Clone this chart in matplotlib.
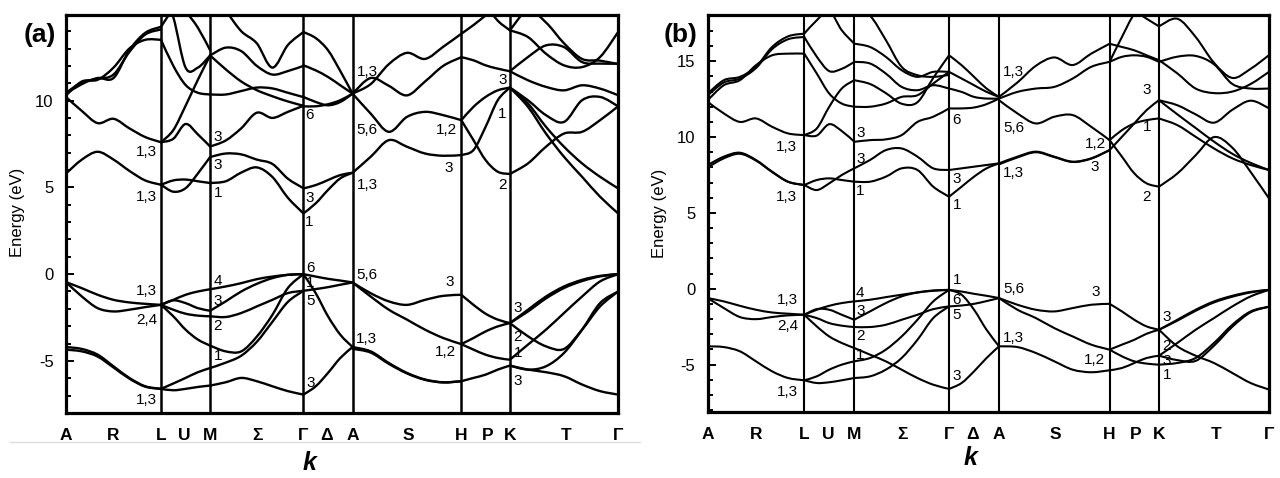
import numpy as np
import matplotlib
matplotlib.use("Agg")
import matplotlib.pyplot as plt
from matplotlib.path import Path
from matplotlib.patches import PathPatch
from matplotlib.lines import Line2D
from matplotlib.ticker import MultipleLocator

plt.rcParams['font.family'] = ['Liberation Sans', 'DejaVu Sans']
plt.rcParams['axes.unicode_minus'] = False

# high symmetry points along k (both panels share the same path)
k_lines = [0.172, 0.261, 0.43, 0.519, 0.716, 0.804]
tick_k = [0.0, 0.086, 0.172, 0.214, 0.261, 0.347, 0.43, 0.4725, 0.519, 0.62, 0.716, 0.763, 0.804, 0.905, 1.0]
tick_names = ['A', 'R', 'L', 'U', 'M', 'Σ', 'Γ', 'Δ', 'A', 'S', 'H', 'P', 'K', 'T', 'Γ']

# k samples in each segment
k_AL = [0.0, 0.0287, 0.0573, 0.086, 0.1147, 0.1433, 0.172]
k_LM = [0.172, 0.1943, 0.2165, 0.2388, 0.261]
k_MG = [0.261, 0.2892, 0.3173, 0.3455, 0.3737, 0.4018, 0.43]
k_GA = [0.43, 0.4523, 0.4745, 0.4968, 0.519]
k_AH = [0.519, 0.5518, 0.5847, 0.6175, 0.6503, 0.6832, 0.716]
k_HK = [0.716, 0.738, 0.76, 0.782, 0.804]
k_KG = [0.804, 0.8367, 0.8693, 0.902, 0.9347, 0.9673, 1.0]

### panel (a): band energies (eV) read at the k samples
a_AL = [[10.4, 10.95, 11.3, 11.3, 12.9, 13.9, 14.25],
        [10.45, 11.05, 11.25, 11.5, 12.8, 13.8, 14.1],
        [10.3, 11.1, 11.2, 11.9, 13.0, 13.5, 13.5],
        [10.2, 9.4, 8.7, 8.95, 8.4, 7.9, 7.6],
        [5.8, 6.6, 7.05, 6.6, 5.95, 5.4, 5.15],
        [-0.46, -0.81, -1.19, -1.48, -1.63, -1.71, -1.77],
        [-0.46, -1.29, -1.96, -2.15, -2.05, -1.9, -1.77],
        [-4.2, -4.31, -4.64, -5.31, -5.98, -6.46, -6.61],
        [-4.35, -4.45, -4.75, -5.38, -6.02, -6.48, -6.61]]
a_LM = [[7.6, 7.8, 8.65, 8.05, 7.35],
        [7.6, 8.3, 9.7, 11.2, 12.6],
        [5.15, 4.75, 4.95, 5.8, 6.75],
        [5.15, 5.4, 5.45, 5.35, 5.25],
        [14.25, 15.3, 16.0, 16.5, 16.8],
        [16.5, 14.8, 11.9, 11.9, 12.6],
        [13.5, 12.0, 10.9, 10.45, 10.35],
        [17.0, 16.5, 15.2, 14.2, 12.9],
        [-1.77, -1.48, -1.19, -1.0, -0.87],
        [-1.77, -1.51, -1.67, -1.96, -2.11],
        [-1.77, -2.05, -2.28, -2.39, -2.43],
        [-1.77, -2.43, -3.2, -3.77, -4.12],
        [-6.61, -6.3, -5.98, -5.65, -5.41],
        [-6.61, -6.69, -6.61, -6.5, -6.42]]
a_MG = [[5.25, 5.35, 5.85, 6.15, 5.6, 4.4, 3.5],
        [6.75, 6.95, 6.9, 6.6, 6.35, 5.5, 4.95],
        [7.35, 7.7, 8.4, 9.3, 9.0, 9.35, 9.7],
        [10.35, 10.35, 10.55, 10.75, 10.7, 10.45, 10.2],
        [12.6, 11.8, 11.1, 10.6, 10.25, 9.95, 9.7],
        [12.6, 13.05, 12.85, 12.0, 11.5, 11.7, 12.0],
        [16.5, 15.2, 14.0, 13.3, 11.9, 13.2, 13.95],
        [-0.87, -0.71, -0.52, -0.29, -0.14, -0.04, 0.0],
        [-2.11, -1.57, -1.0, -0.56, -0.23, -0.04, 0.0],
        [-2.43, -2.47, -2.24, -1.86, -1.48, -1.09, -0.96],
        [-4.12, -4.45, -4.45, -3.6, -2.35, -0.8, 0.0],
        [-5.41, -5.1, -4.7, -3.9, -2.75, -1.6, -0.96],
        [-6.42, -6.23, -5.98, -6.17, -6.46, -6.74, -6.94]]
a_GA = [[13.95, 13.6, 12.9, 11.7, 10.4],
        [12.03, 11.74, 11.36, 10.88, 10.4],
        [10.21, 9.92, 9.73, 9.92, 10.4],
        [9.67, 9.67, 9.79, 10.02, 10.4],
        [4.94, 5.13, 5.42, 5.71, 5.84],
        [3.5, 4.08, 4.85, 5.52, 5.84],
        [0.0, -0.14, -0.27, -0.37, -0.48],
        [-0.96, -0.86, -0.75, -0.61, -0.48],
        [0.0, -1.1, -2.43, -3.49, -4.2],
        [-6.94, -6.46, -5.69, -4.83, -4.2]]
a_AH = [[10.4, 10.95, 12.1, 12.75, 12.4, 13.1, 13.85],
        [10.4, 11.3, 10.85, 10.3, 11.1, 12.0, 12.5],
        [10.4, 9.25, 8.2, 9.06, 9.35, 9.16, 8.87],
        [5.84, 6.76, 7.72, 7.34, 6.95, 6.82, 6.86],
        [-0.48, -1.1, -1.57, -1.77, -1.48, -1.25, -1.19],
        [-0.48, -1.29, -2.05, -2.62, -3.2, -3.68, -4.03],
        [-4.2, -4.45, -5.12, -5.69, -6.07, -6.23, -6.17],
        [-4.3, -4.52, -5.17, -5.72, -6.09, -6.24, -6.17]]
a_HK = [[8.87, 9.64, 10.21, 10.59, 10.75],
        [6.86, 7.15, 8.49, 10.02, 10.75],
        [8.87, 7.72, 6.57, 5.9, 5.77],
        [12.5, 12.32, 12.03, 11.84, 11.69],
        [13.85, 14.35, 14.9, 15.4, 15.6],
        [16.0, 16.0, 15.5, 14.6, 14.05],
        [-1.19, -1.77, -2.28, -2.62, -2.82],
        [-4.03, -3.68, -3.3, -3.01, -2.82],
        [-4.03, -4.35, -4.64, -4.83, -4.93],
        [-6.17, -5.98, -5.79, -5.5, -5.27]]
a_KG = [[11.69, 12.51, 13.18, 13.08, 12.22, 12.13, 12.13],
        [14.05, 13.66, 12.7, 12.03, 11.93, 12.51, 13.95],
        [11.69, 11.17, 10.79, 10.59, 10.88, 10.69, 10.31],
        [10.75, 10.02, 9.16, 8.77, 10.02, 10.21, 9.67],
        [5.77, 6.38, 7.34, 8.1, 8.2, 8.87, 9.67],
        [10.75, 9.83, 8.49, 7.34, 6.38, 5.61, 4.94],
        [10.75, 9.64, 8.1, 6.76, 5.61, 4.46, 3.5],
        [14.05, 15.2, 14.5, 13.3, 12.4, 12.3, 12.1],
        [-2.82, -2.05, -1.29, -0.71, -0.33, -0.1, 0.0],
        [-2.82, -2.15, -1.4, -0.8, -0.4, -0.13, 0.0],
        [-2.82, -3.58, -4.16, -4.31, -3.2, -1.86, -1.0],
        [-4.93, -4.06, -3.2, -2.24, -1.29, -0.42, 0.0],
        [-5.27, -5.5, -5.31, -4.54, -3.2, -1.67, -1.0],
        [-5.27, -5.5, -5.65, -5.88, -6.36, -6.74, -6.94]]

### panel (b)
b_AL = [[12.87, 13.75, 13.97, 14.63, 15.94, 16.64, 16.82],
        [12.75, 13.6, 13.85, 14.55, 15.8, 16.45, 16.6],
        [12.43, 13.42, 13.75, 14.74, 15.39, 15.5, 15.5],
        [12.32, 11.56, 11.0, 11.23, 10.68, 10.24, 10.13],
        [8.16, 8.71, 8.97, 8.49, 7.72, 7.06, 6.84],
        [8.0, 8.6, 8.9, 8.45, 7.7, 7.05, 6.84],
        [-0.61, -0.83, -1.12, -1.38, -1.56, -1.64, -1.71],
        [-0.61, -1.27, -1.86, -2.0, -1.86, -1.75, -1.71],
        [-3.79, -3.84, -4.12, -4.78, -5.44, -5.88, -6.03]]
b_LM = [[10.13, 10.1, 10.85, 10.4, 9.7],
        [10.13, 10.57, 12.0, 13.2, 13.75],
        [15.5, 14.19, 12.87, 12.21, 12.0],
        [16.82, 17.7, 18.3, 17.04, 16.16],
        [16.6, 15.3, 14.35, 14.5, 14.95],
        [6.84, 6.51, 6.95, 7.5, 7.94],
        [6.84, 7.17, 7.28, 7.17, 7.06],
        [-1.71, -1.38, -1.12, -0.94, -0.83],
        [-1.71, -1.34, -1.38, -1.71, -2.04],
        [-1.71, -1.93, -2.26, -2.43, -2.52],
        [-1.71, -2.48, -3.14, -3.57, -3.9],
        [-6.03, -5.77, -5.33, -5.0, -4.78],
        [-6.03, -6.21, -6.16, -6.03, -5.88]]
b_MG = [[7.06, 7.06, 7.39, 7.94, 7.83, 6.73, 6.07],
        [7.94, 8.49, 9.14, 9.25, 8.71, 7.94, 7.83],
        [9.69, 9.8, 9.85, 10.13, 11.0, 11.34, 11.89],
        [12.0, 12.0, 12.21, 12.65, 12.76, 13.53, 14.3],
        [13.75, 13.5, 12.9, 12.2, 12.3, 13.9, 15.39],
        [14.96, 14.85, 14.19, 13.31, 13.09, 13.42, 13.2],
        [16.16, 15.94, 15.29, 14.41, 13.97, 14.3, 14.3],
        [18.5, 18.0, 16.4, 14.63, 14.08, 13.97, 14.1],
        [-0.83, -0.72, -0.55, -0.39, -0.24, -0.13, -0.07],
        [-2.04, -1.49, -0.94, -0.5, -0.24, -0.11, -0.07],
        [-2.52, -2.52, -2.37, -2.04, -1.71, -1.34, -1.16],
        [-3.9, -4.34, -4.78, -5.33, -5.88, -6.32, -6.6],
        [-4.78, -4.56, -4.01, -3.14, -2.04, -0.83, -0.07],
        [-5.88, -5.77, -5.33, -4.56, -3.36, -1.93, -1.16]]
b_GA = [[15.39, 14.74, 13.97, 13.2, 12.65],
        [14.3, 13.86, 13.42, 12.98, 12.65],
        [13.2, 12.98, 12.65, 12.54, 12.54],
        [11.89, 11.89, 11.95, 12.17, 12.54],
        [7.83, 7.94, 8.05, 8.16, 8.27],
        [6.07, 6.73, 7.39, 7.94, 8.27],
        [-0.07, -0.18, -0.33, -0.46, -0.61],
        [-1.16, -1.1, -0.99, -0.81, -0.61],
        [-0.07, -0.39, -1.38, -2.7, -3.79],
        [-6.6, -6.21, -5.44, -4.56, -3.79]]
b_AH = [[12.65, 13.6, 14.7, 15.25, 14.75, 15.5, 16.15],
        [12.54, 12.98, 13.2, 13.31, 13.86, 14.63, 14.96],
        [12.43, 11.56, 10.9, 11.34, 11.45, 10.68, 9.8],
        [8.27, 8.71, 9.04, 8.71, 8.38, 8.6, 9.14],
        [8.2, 8.66, 9.0, 8.68, 8.36, 8.58, 9.14],
        [-0.61, -1.05, -1.38, -1.49, -1.27, -1.05, -0.99],
        [-0.61, -1.38, -1.93, -2.59, -3.14, -3.68, -4.01],
        [-3.79, -3.84, -4.23, -4.78, -5.33, -5.5, -5.37]]
b_HK = [[9.8, 10.46, 10.9, 11.12, 11.23],
        [9.14, 10.02, 10.9, 11.78, 12.43],
        [9.8, 8.71, 7.61, 6.95, 6.73],
        [14.96, 15.29, 15.39, 15.29, 14.96],
        [16.15, 15.94, 15.72, 15.39, 15.07],
        [14.96, 16.6, 18.1, 18.6, 18.6],
        [18.6, 18.6, 18.3, 17.8, 17.3],
        [-0.99, -1.49, -2.04, -2.48, -2.7],
        [-4.01, -3.68, -3.36, -2.96, -2.7],
        [-4.01, -4.45, -4.78, -4.93, -5.0],
        [-5.37, -5.22, -4.89, -4.56, -4.41]]
b_KG = [[12.43, 12.1, 11.5, 10.95, 11.8, 12.4, 11.9],
        [11.23, 10.79, 10.02, 9.25, 8.6, 8.16, 7.83],
        [12.43, 11.5, 10.6, 9.7, 8.9, 8.3, 7.83],
        [6.73, 7.6, 8.8, 10.0, 9.3, 7.7, 5.96],
        [15.07, 14.2, 13.2, 12.9, 13.0, 13.5, 14.3],
        [14.96, 15.3, 15.35, 14.8, 13.5, 13.2, 13.2],
        [17.3, 17.8, 16.6, 14.9, 13.9, 14.5, 15.4],
        [-2.7, -2.04, -1.38, -0.83, -0.46, -0.2, -0.07],
        [-2.7, -2.1, -1.45, -0.9, -0.52, -0.24, -0.07],
        [-4.41, -3.57, -2.7, -1.93, -1.16, -0.5, -0.07],
        [-2.7, -3.79, -4.41, -4.89, -5.55, -6.21, -6.64],
        [-5.0, -4.89, -4.56, -3.57, -2.37, -1.49, -1.18],
        [-4.41, -4.7, -4.75, -3.75, -2.5, -1.55, -1.18]]

# irreducible representation labels: text, k, E, alignment
a_lab_text = ['1,3', '1,3', '3', '3', '1', '6', '3', '1',
              '1,3', '5,6', '1,3', '1,2', '3', '3', '1', '2',
              '1,3', '2,4', '1,3', '4', '3', '2', '1', '6', '1', '5', '3',
              '5,6', '1,3', '3', '1,2', '3', '2', '1', '3']
a_lab_k = [0.164, 0.164, 0.267, 0.267, 0.267, 0.433, 0.433, 0.433,
           0.5266, 0.5266, 0.5266, 0.7077, 0.6926, 0.7983, 0.7983, 0.7983,
           0.1655, 0.1655, 0.1655, 0.267, 0.267, 0.267, 0.267, 0.4348, 0.4348, 0.4348, 0.4348,
           0.5254, 0.5254, 0.6944, 0.7064, 0.8104, 0.8104, 0.8104, 0.8104]
a_lab_E = [7.05, 4.46, 7.91, 6.28, 4.66, 9.16, 4.37, 3.03,
           11.65, 8.3, 5.13, 8.3, 6.09, 11.17, 9.25, 5.13,
           -1.0, -2.67, -7.27, -0.37, -1.57, -3.0, -4.73, 0.34, -0.52, -1.53, -6.3,
           -0.04, -3.72, -0.48, -4.5, -1.96, -3.63, -4.54, -6.17]
a_lab_ha = ['r', 'r', 'l', 'l', 'l', 'l', 'l', 'l',
            'l', 'l', 'l', 'r', 'c', 'r', 'r', 'r',
            'r', 'r', 'r', 'l', 'l', 'l', 'l', 'l', 'l', 'l', 'l',
            'l', 'l', 'c', 'r', 'l', 'l', 'l', 'l']

b_lab_text = ['1,3', '1,3', '3', '3', '1', '6', '3', '1',
              '1,3', '5,6', '1,3', '1,2', '3', '3', '1', '2',
              '1,3', '2,4', '1,3', '4', '3', '2', '1', '1', '6', '5', '3',
              '5,6', '1,3', '3', '1,2', '3', '2', '3', '1']
b_lab_k = [0.1597, 0.1597, 0.2642, 0.2642, 0.2642, 0.4365, 0.4365, 0.4365,
           0.5267, 0.5267, 0.5267, 0.7096, 0.69, 0.7898, 0.7898, 0.7898,
           0.1615, 0.1615, 0.1615, 0.2642, 0.2642, 0.2642, 0.2642, 0.4365, 0.4365, 0.4365, 0.4365,
           0.5267, 0.5267, 0.6918, 0.7084, 0.8106, 0.8106, 0.8106, 0.8106]
b_lab_E = [9.36, 6.07, 10.24, 8.53, 6.47, 11.12, 7.21, 5.53,
           14.3, 10.57, 7.61, 9.54, 8.05, 13.09, 10.68, 6.07,
           -0.77, -2.48, -6.8, -0.29, -1.45, -3.14, -4.34, 0.55, -0.72, -1.75, -5.77,
           -0.02, -3.25, -0.18, -4.67, -1.86, -3.79, -4.78, -5.66]
b_lab_ha = a_lab_ha


def smooth(k, e):
    # cubic path through the sampled points
    pts = np.column_stack([k, e])
    verts = [pts[0]]
    codes = [Path.MOVETO]
    n = len(pts)
    for i in range(n - 1):
        p0 = pts[i - 1] if i > 0 else pts[i]
        p1 = pts[i]
        p2 = pts[i + 1]
        p3 = pts[i + 2] if i + 2 < n else pts[i + 1]
        verts += [p1 + (p2 - p0) / 6.0, p2 - (p3 - p1) / 6.0, p2]
        codes += [Path.CURVE4] * 3
    return Path(verts, codes)


def draw_panel(ax, segs, ylim, yticks, lw, vlw, lab):
    for kk, bands in segs:
        for e in bands:
            ax.add_patch(PathPatch(smooth(kk, e), fill=False, ec='black', lw=lw,
                                   capstyle='round', joinstyle='round'))
    for kv in k_lines:
        ax.axvline(kv, color='black', lw=vlw)
    ax.set_xlim(0, 1)
    ax.set_ylim(*ylim)
    ax.set_yticks(yticks)
    ax.set_yticklabels([str(t) for t in yticks])
    ax.yaxis.set_minor_locator(MultipleLocator(1))
    ax.tick_params(axis='y', which='both', direction='in', right=False, labelsize=12, pad=9, width=1.4)
    ax.tick_params(axis='y', which='major', length=6)
    ax.tick_params(axis='y', which='minor', length=3.5)
    ax.set_xticks(tick_k)
    ax.set_xticklabels(tick_names, fontsize=12.5, fontweight='bold')
    ax.tick_params(axis='x', length=0, pad=11)
    for s in ax.spines.values():
        s.set_linewidth(2.3)
    al = {'l': 'left', 'r': 'right', 'c': 'center'}
    for t, kx, ey, h in zip(*lab):
        ax.text(kx, ey, t, ha=al[h], va='center', fontsize=11)


fig = plt.figure(figsize=(12.8, 4.78), dpi=100)
ax_a = fig.add_axes([0.0516, 0.136, 0.4313, 0.8326])
ax_b = fig.add_axes([0.5529, 0.1387, 0.4385, 0.83])

draw_panel(ax_a, [(k_AL, a_AL), (k_LM, a_LM), (k_MG, a_MG), (k_GA, a_GA),
                  (k_AH, a_AH), (k_HK, a_HK), (k_KG, a_KG)],
           (-8, 14.93), [-5, 0, 5, 10], 1.7, 1.8,
           (a_lab_text, a_lab_k, a_lab_E, a_lab_ha))
draw_panel(ax_b, [(k_AL, b_AL), (k_LM, b_LM), (k_MG, b_MG), (k_GA, b_GA),
                  (k_AH, b_AH), (k_HK, b_HK), (k_KG, b_KG)],
           (-8.1, 18.05), [-5, 0, 5, 10, 15], 1.5, 1.5,
           (b_lab_text, b_lab_k, b_lab_E, b_lab_ha))

fig.text(0.0133, 0.556, 'Energy (eV)', rotation=90, ha='center', va='center', fontsize=12)
fig.text(0.515, 0.554, 'Energy (eV)', rotation=90, ha='center', va='center', fontsize=12)
fig.text(0.031, 0.927, '(a)', ha='center', va='center', fontsize=19, fontweight='bold')
fig.text(0.532, 0.927, '(b)', ha='center', va='center', fontsize=19, fontweight='bold')
fig.text(0.242, 0.031, 'k', ha='center', va='center', fontsize=18, fontweight='bold', fontstyle='italic')
fig.text(0.758, 0.042, 'k', ha='center', va='center', fontsize=18, fontweight='bold', fontstyle='italic')
fig.add_artist(Line2D([10 / 1280, 640 / 1280], [1 - 442 / 478] * 2, color='#dddddd', lw=1))

fig.savefig('out.png', dpi=100)
